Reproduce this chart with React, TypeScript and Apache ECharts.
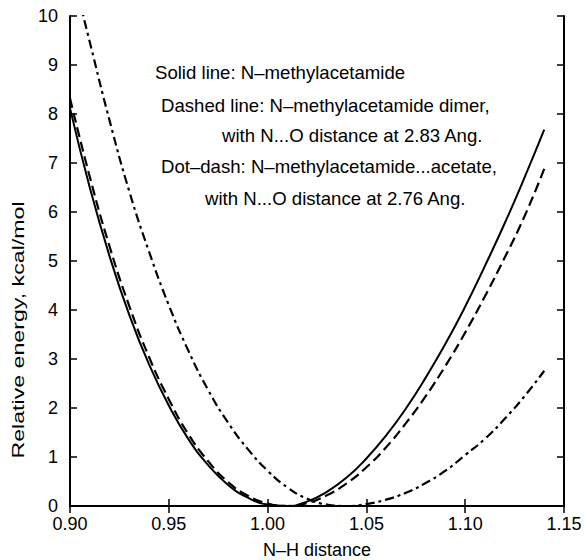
import React, { useEffect, useRef } from "react";
import * as echarts from "echarts";

// N-H distance (Angstrom)
const nhDistance = [
  0.90, 0.91, 0.92, 0.93, 0.94, 0.95, 0.96, 0.97, 0.98, 0.99,
  1.00, 1.01, 1.02, 1.03, 1.04, 1.05, 1.06, 1.07, 1.08, 1.09,
  1.10, 1.11, 1.12, 1.13, 1.14,
];
// Solid line: N-methylacetamide
const solidEnergy = [
  8.12, 6.50, 5.10, 3.90, 2.89, 2.05, 1.36, 0.83, 0.43, 0.17,
  0.03, 0.0, 0.09, 0.29, 0.58, 0.97, 1.44, 1.99, 2.62, 3.31,
  4.07, 4.90, 5.77, 6.70, 7.68,
];
// Dashed line: N-methylacetamide dimer
const dashedEnergy = [
  8.32, 6.72, 5.30, 4.08, 3.04, 2.18, 1.46, 0.91, 0.49, 0.21,
  0.05, 0.0, 0.06, 0.22, 0.46, 0.79, 1.20, 1.69, 2.24, 2.86,
  3.54, 4.28, 5.07, 5.91, 6.88,
];
// Dot-dash: N-methylacetamide...acetate
const dotDashEnergy = [
  11.1, 9.47, 7.87, 6.42, 5.19, 4.10, 3.16, 2.36, 1.70, 1.16,
  0.72, 0.38, 0.15, 0.03, 0.0, 0.04, 0.13, 0.27, 0.47, 0.72,
  1.04, 1.37, 1.78, 2.24, 2.76,
];
const notes = [
  "Solid line: N\u2013methylacetamide",
  "Dashed line: N\u2013methylacetamide dimer,",
  "with N...O distance at 2.83 Ang.",
  "Dot\u2013dash: N\u2013methylacetamide...acetate,",
  "with N...O distance at 2.76 Ang.",
];
const xTitle = "N\u2013H distance";
const yTitle = "Relative energy, kcal/mol";

const FONT = "'Liberation Sans', Arial, Helvetica, sans-serif";

export default function App() {
  const ref = useRef<HTMLDivElement>(null);
  useEffect(() => {
    if (!ref.current) return;
    const chart = echarts.init(ref.current, null, { renderer: "svg" });
    const pairs = (ys: number[]) => nhDistance.map((x, i) => [x, ys[i]]);
    const notePos = [
      [155, 72],
      [161, 105],
      [222, 135],
      [161, 166],
      [205, 198],
    ];
    const axisLine = { show: true, lineStyle: { color: "#000", width: 2 } };
    const axisTick = { show: true, inside: true, length: 7, lineStyle: { color: "#000", width: 1.5 } };
    chart.setOption({
      animation: false,
      backgroundColor: "#fff",
      grid: { left: 70, right: 20, top: 16, bottom: 54, outerBoundsMode: "none" },
      xAxis: [
        {
          type: "value",
          min: 0.9,
          max: 1.15,
          interval: 0.05,
          position: "bottom",
          axisLine,
          axisTick,
          splitLine: { show: false },
          axisLabel: {
            color: "#000",
            fontFamily: FONT,
            fontSize: 18,
            margin: 9,
            formatter: (v: number) => v.toFixed(2),
          },
          name: xTitle,
          nameLocation: "middle",
          nameGap: 35,
          nameTextStyle: { color: "#000", fontFamily: FONT, fontSize: 18 },
        },
        {
          type: "value",
          min: 0.9,
          max: 1.15,
          interval: 0.05,
          position: "top",
          axisLine,
          axisTick,
          splitLine: { show: false },
          axisLabel: { show: false },
        },
      ],
      yAxis: [
        {
          type: "value",
          min: 0,
          max: 10,
          interval: 1,
          position: "left",
          axisLine,
          axisTick,
          splitLine: { show: false },
          axisLabel: { color: "#000", fontFamily: FONT, fontSize: 18, margin: 12 },
        },
        {
          type: "value",
          min: 0,
          max: 10,
          interval: 1,
          position: "right",
          axisLine,
          axisTick,
          splitLine: { show: false },
          axisLabel: { show: false },
        },
      ],
      series: [
        {
          type: "line",
          data: pairs(solidEnergy),
          smooth: true,
          showSymbol: false,
          clip: true,
          lineStyle: { color: "#000", width: 2, type: "solid" },
        },
        {
          type: "line",
          data: pairs(dashedEnergy),
          smooth: true,
          showSymbol: false,
          clip: true,
          lineStyle: { color: "#000", width: 2.2, type: [10, 5] },
        },
        {
          type: "line",
          data: pairs(dotDashEnergy),
          smooth: true,
          showSymbol: false,
          clip: true,
          lineStyle: { color: "#000", width: 2.2, type: [9, 4, 3, 4] },
        },
      ],
      graphic: [
        ...notes.map((t, i) => ({
          type: "text",
          x: notePos[i][0],
          y: notePos[i][1],
          style: {
            text: t,
            fill: "#000",
            font: `18.6px ${FONT}`,
            textAlign: "left",
            textVerticalAlign: "middle",
          },
        })),
        {
          type: "text",
          x: 18,
          y: 330,
          rotation: Math.PI / 2,
          scaleX: 1.45,
          style: {
            text: yTitle,
            fill: "#000",
            font: `16px ${FONT}`,
            textAlign: "center",
            textVerticalAlign: "middle",
          },
        },
      ],
    });
    return () => chart.dispose();
  }, []);
  return (
    <div
      ref={ref}
      style={{ position: "fixed", left: 0, top: 0, width: 584, height: 560, background: "#fff" }}
    />
  );
}
